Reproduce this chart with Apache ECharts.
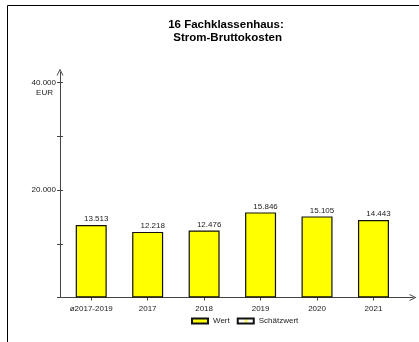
<!DOCTYPE html>
<html><head><meta charset="utf-8">
<script src="https://cdn.jsdelivr.net/npm/echarts@6/dist/echarts.min.js"></script>
<style>html,body{margin:0;padding:0;background:#fff}#c{width:419px;height:342px}</style>
</head><body><div id="c"></div>
<script>
const categories = ['ø2017-2019', '2017', '2018', '2019', '2020', '2021'];
const wert = [13513, 12218, 12476, 15846, 15105, 14443];
const schaetzwert = [null, null, null, null, null, null];
const yTickValues = [0, 10000, 20000, 30000, 40000];
const yLabelValues = [20000, 40000];
const yUnit = 'EUR';
const xPositions = categories.map((c, i) => i);

const fmt = v => String(v).replace(/\B(?=(\d{3})+(?!\d))/g, '.');
const FONT = 'Liberation Sans, Arial, sans-serif';
const chart = echarts.init(document.getElementById('c'), null, {renderer: 'canvas'});
const axisColor = '#444';
const arrow = 'path://M0,10 L5,0 L10,10 L8.6,10 L5,2.8 L1.4,10 Z';
const maxLabel = Math.max(...yLabelValues);
chart.setOption({
  animation: false,
  backgroundColor: '#fff',
  title: {
    text: '16 Fachklassenhaus:\n Strom-Bruttokosten',
    left: 221, top: 14, textAlign: 'center',
    textStyle: {fontFamily: FONT, fontSize: 11.5, fontWeight: 'bold', color: '#000', lineHeight: 12.5}
  },
  legend: {
    left: 186, top: 312, itemWidth: 16, itemHeight: 5, itemGap: 7,
    icon: 'rect',
    textStyle: {fontFamily: FONT, fontSize: 8, color: '#222'},
    data: ['Wert', 'Schätzwert']
  },
  graphic: [{
    type: 'rect', shape: {x: 7.5, y: 5.5, width: 600, height: 600},
    style: {fill: 'none', stroke: '#000', lineWidth: 1}, silent: true, z: -1
  }],
  grid: {left: 60, right: 6, top: 72, bottom: 44.5, containLabel: false},
  xAxis: {
    type: 'value', min: -0.553, max: 5.70,
    splitLine: {show: false},
    axisLine: {show: true, onZero: false, lineStyle: {color: axisColor, width: 1},
      symbol: ['none', arrow], symbolSize: [7, 7], symbolOffset: [0, 0]},
    axisTick: {show: true, inside: false, length: 3, lineStyle: {color: axisColor}, customValues: xPositions},
    axisLabel: {fontFamily: FONT, fontSize: 8, color: '#222', margin: 7, customValues: xPositions,
      formatter: v => categories[Math.round(v)]}
  },
  yAxis: [{
    type: 'value', min: 0, max: 42000,
    splitLine: {show: false},
    axisLine: {show: true, onZero: false, lineStyle: {color: axisColor, width: 1},
      symbol: ['none', arrow], symbolSize: [7, 7], symbolOffset: [0, 0]},
    axisTick: {show: true, inside: false, length: 3, lineStyle: {color: axisColor}, customValues: yTickValues},
    axisLabel: {fontFamily: FONT, fontSize: 8, color: '#222', margin: 4, customValues: yLabelValues,
      formatter: v => v === maxLabel ? '{e| }\n{v|' + fmt(v) + '}\n{u|' + yUnit + '}' : fmt(v),
      rich: {
        e: {fontFamily: FONT, fontSize: 8, lineHeight: 10},
        v: {fontFamily: FONT, fontSize: 8, lineHeight: 10, color: '#222'},
        u: {fontFamily: FONT, fontSize: 8, lineHeight: 10, color: '#222', padding: [0, 3, 0, 0]}
      }}
  }, {
    type: 'value', min: 0, max: 42000, position: 'left',
    splitLine: {show: false}, axisLine: {show: false, onZero: false},
    axisTick: {show: true, inside: true, length: 3, lineStyle: {color: axisColor}, customValues: yTickValues},
    axisLabel: {show: false}
  }],
  series: [{
    name: 'Wert', type: 'bar', stack: 's', barWidth: 31,
    data: wert.map((v, i) => [i, v]),
    itemStyle: {color: '#ffff00', borderColor: '#111', borderWidth: 1.2},
    label: {show: true, position: 'top', distance: 2, offset: [5, 0], fontFamily: FONT, fontSize: 8, color: '#222',
      formatter: p => fmt(p.value[1])}
  }, {
    name: 'Schätzwert', type: 'bar', stack: 's', barWidth: 31,
    data: schaetzwert.map((v, i) => [i, v]),
    itemStyle: {
      color: {type: 'linear', x: 0, y: 0, x2: 1, y2: 1, colorStops: [
        {offset: 0, color: '#fff'}, {offset: 0.45, color: '#fff'}, {offset: 0.5, color: '#ffff00'},
        {offset: 0.62, color: '#fff'}, {offset: 1, color: '#fff'}]},
      borderColor: '#111', borderWidth: 1.2
    }
  }]
});
</script></body></html>
